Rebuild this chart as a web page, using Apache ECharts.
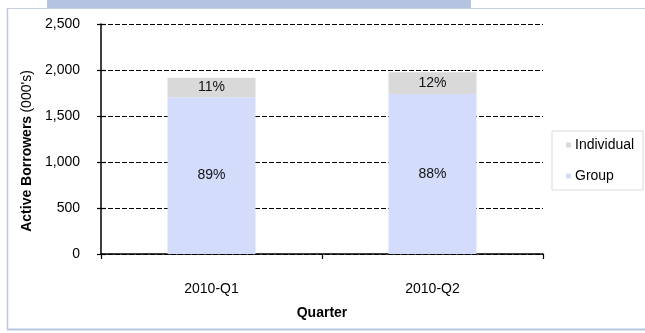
<!DOCTYPE html>
<html>
<head>
<meta charset="utf-8">
<script src="https://cdn.jsdelivr.net/npm/echarts@6/dist/echarts.min.js"></script>
<style>
  html, body { margin: 0; padding: 0; background: #ffffff; }
  #chart { width: 645px; height: 333px; }
</style>
</head>
<body>
<div id="chart"></div>
<script>
// Active borrowers by quarter (thousands), split by lending type
const quarters = ['2010-Q1', '2010-Q2'];
const groupBorrowers = [1705, 1740];
const individualBorrowers = [210, 235];
const yTicks = [0, 500, 1000, 1500, 2000, 2500];

const totals = quarters.map((_, i) => groupBorrowers[i] + individualBorrowers[i]);
const pct = (v, i) => Math.round(v / totals[i] * 100) + '%';
const withCommas = v => String(v).replace(/\B(?=(\d{3})+(?!\d))/g, ',');

const FONT = 'Liberation Sans, Arial, sans-serif';
const FS = 14;
const yMin = yTicks[0];
const yMax = yTicks[yTicks.length - 1];
const yStep = yTicks[1] - yTicks[0];

const chart = echarts.init(document.getElementById('chart'), null, { renderer: 'canvas' });

chart.setOption({
  animation: false,
  backgroundColor: '#ffffff',
  textStyle: { fontFamily: FONT },
  graphic: [
    // header tab strip
    { type: 'rect', z: -10, shape: { x: 47, y: 0, width: 424, height: 8 }, style: { fill: '#b4c3df' } },
    // panel frame
    { type: 'line', z: -10, shape: { x1: 7, y1: 8.5, x2: 645, y2: 8.5 }, style: { stroke: '#c7d0e2', lineWidth: 1 } },
    { type: 'line', z: -10, shape: { x1: 7.5, y1: 8, x2: 7.5, y2: 330 }, style: { stroke: '#bcc7de', lineWidth: 1.5 } },
    { type: 'line', z: -10, shape: { x1: 7, y1: 329.5, x2: 645, y2: 329.5 }, style: { stroke: '#b9c5de', lineWidth: 2 } }
  ],
  grid: { left: 101, right: 102, top: 24, bottom: 79 },
  legend: {
    orient: 'vertical',
    left: 552,
    top: 131,
    data: ['Individual', 'Group'],
    icon: 'rect',
    itemWidth: 5,
    itemHeight: 5,
    itemGap: 17,
    padding: [7, 9, 7, 14],
    borderColor: '#d9d9d9',
    borderWidth: 1,
    textStyle: { fontFamily: FONT, fontSize: FS, color: '#000', padding: [0, 0, 0, -1] }
  },
  xAxis: {
    type: 'category',
    data: quarters,
    name: 'Quarter',
    nameLocation: 'middle',
    nameGap: 52,
    nameTextStyle: { fontFamily: FONT, fontSize: FS, fontWeight: 'bold', color: '#000' },
    axisLine: { lineStyle: { color: '#000', width: 1.5 } },
    axisTick: { show: true, alignWithLabel: false, length: 5, lineStyle: { color: '#000', width: 1.2 } },
    axisLabel: { fontFamily: FONT, fontSize: FS, color: '#000', margin: 28 }
  },
  yAxis: [
    {
      type: 'value',
      min: yMin,
      max: yMax,
      interval: yStep,
      name: '{b|Active Borrowers} {n|(000\'s)}',
      nameLocation: 'middle',
      nameGap: 64,
      nameTextStyle: {
        padding: [0, 24, 0, 0],
        rich: {
          b: { fontFamily: FONT, fontSize: FS, fontWeight: 'bold', color: '#000' },
          n: { fontFamily: FONT, fontSize: FS, color: '#000' }
        }
      },
      axisLine: { show: true, lineStyle: { color: '#000', width: 1.5 } },
      axisTick: { show: true, length: 4, lineStyle: { color: '#000', width: 1.2 } },
      axisLabel: { fontFamily: FONT, fontSize: FS, color: '#000', margin: 21, formatter: v => withCommas(v) },
      splitLine: { show: true, lineStyle: { color: '#000', width: 1.2, type: [5, 2] } }
    },
    {
      // inner half of the cross tick marks
      type: 'value',
      position: 'left',
      offset: 0,
      min: yMin,
      max: yMax,
      interval: yStep,
      axisLine: { show: false },
      axisTick: { show: true, inside: true, length: 5, lineStyle: { color: '#000', width: 1.2 } },
      axisLabel: { show: false },
      splitLine: { show: false }
    }
  ],
  series: [
    {
      name: 'Group',
      type: 'bar',
      stack: 'borrowers',
      barWidth: 88,
      data: groupBorrowers,
      itemStyle: { color: '#d4dcfb' },
      label: {
        show: true,
        position: 'inside',
        fontFamily: FONT,
        fontSize: FS,
        color: '#111',
        formatter: p => pct(p.value, p.dataIndex)
      }
    },
    {
      name: 'Individual',
      type: 'bar',
      stack: 'borrowers',
      barWidth: 88,
      data: individualBorrowers,
      itemStyle: { color: '#d9d9d9' },
      label: {
        show: true,
        position: 'inside',
        fontFamily: FONT,
        fontSize: FS,
        color: '#111',
        formatter: p => pct(p.value, p.dataIndex)
      }
    }
  ]
});
</script>
</body>
</html>
